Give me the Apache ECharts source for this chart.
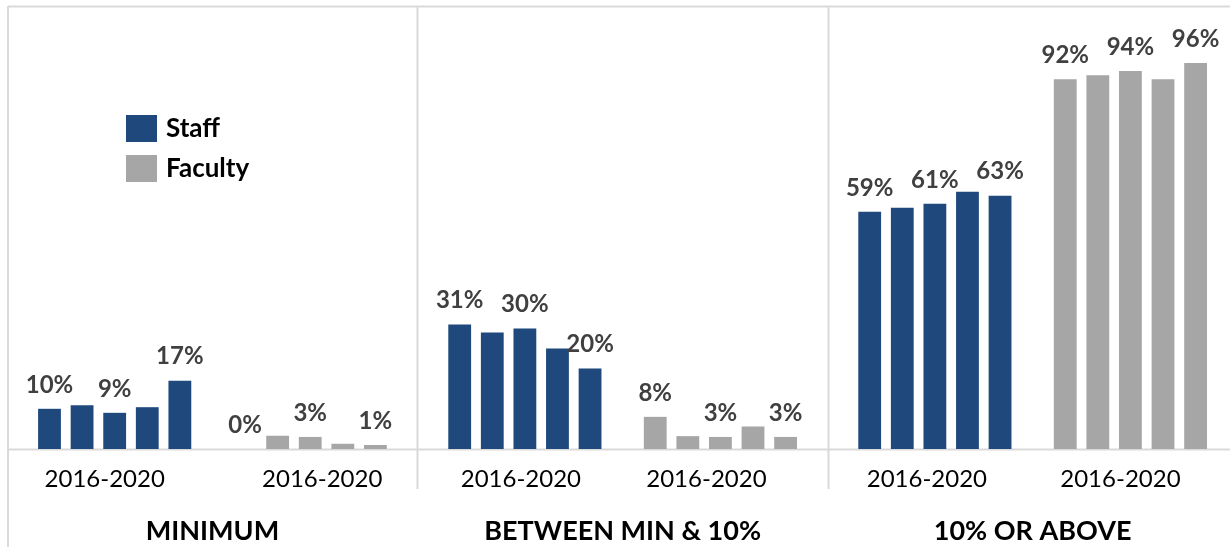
<!DOCTYPE html>
<html>
<head>
<meta charset="utf-8">
<title>Salary increase distribution, Staff vs Faculty</title>
<script src="https://cdn.jsdelivr.net/npm/echarts@6/dist/echarts.min.js"></script>
<style>
  html, body { margin: 0; padding: 0; background: #ffffff; }
  #chart { width: 1230px; height: 547px; }
</style>
</head>
<body>
<div id="chart"></div>
<script>
// Years covered by each group of bars
const years = ['2016', '2017', '2018', '2019', '2020'];
// Panel (outer category) names
const panels = ['MINIMUM', 'BETWEEN MIN & 10%', '10% OR ABOVE'];
const seriesNames = ['Staff', 'Faculty'];

// Percent of employees per year, one array per panel and group
const staffMinimum = [10, 10.9, 9, 10.4, 17];
const facultyMinimum = [0, 3.3, 3, 1.3, 1];
const staffBetween = [31, 29, 30, 25, 20];
const facultyBetween = [8, 3.2, 3, 5.6, 3];
const staffAbove = [59, 60, 61, 64, 63];
const facultyAbove = [92, 93, 94, 92, 96];

// Bars whose value is printed above them (position within the group)
const labelledYears = [0, 2, 4];

const staffValues = [staffMinimum, staffBetween, staffAbove];
const facultyValues = [facultyMinimum, facultyBetween, facultyAbove];

const STAFF_COLOR = '#1f497d';
const FACULTY_COLOR = '#a6a6a6';
const FRAME_COLOR = '#d9d9d9';
const FONT = 'Lato, "Liberation Sans", sans-serif';

// Each panel: 5 staff slots, one empty slot, 5 faculty slots
const categories = [
  ...years.map(y => 'Staff ' + y),
  '',
  ...years.map(y => 'Faculty ' + y)
];
const groupLabel = years[0] + '-' + years[years.length - 1];
const GAP = years.length;
const STAFF_MID = 2;
const FACULTY_MID = GAP + 3;

// Horizontal nudge (px) of the group labels, [staff, faculty] per panel
const labelNudge = [[-10, 12], [-4, -14], [-8, -10]];

const gridLefts = [33.2, 443.4, 853.4];
const grids = gridLefts.map(left => ({
  left: left,
  width: 358.5,
  top: 47,
  bottom: 98,
  containLabel: false,
  outerBoundsMode: 'none'
}));

const xAxes = [];
const yAxes = [];
const series = [];

const nudgeStyle = (dx) => ({
  color: '#000000',
  fontFamily: FONT,
  fontSize: 24,
  padding: dx < 0 ? [0, -2 * dx, 0, 0] : [0, 0, 0, 2 * dx]
});

panels.forEach((panel, i) => {
  // Inner axis: one slot per bar, labelled once per group
  xAxes.push({
    type: 'category',
    gridIndex: i,
    data: categories,
    position: 'bottom',
    axisLine: { show: false },
    axisTick: { show: false },
    axisLabel: {
      interval: (idx) => idx === STAFF_MID || idx === FACULTY_MID,
      formatter: (value, idx) => (idx === STAFF_MID ? '{s|' : '{f|') + groupLabel + '}',
      margin: 18,
      rich: {
        s: nudgeStyle(labelNudge[i][0]),
        f: nudgeStyle(labelNudge[i][1])
      }
    }
  });
  yAxes.push({
    type: 'value',
    gridIndex: i,
    min: 0,
    max: 100,
    show: false,
    splitLine: { show: false }
  });

  const pad = (arr, before) => before
    ? [...arr, '-', ...arr.map(() => '-')]
    : [...arr.map(() => '-'), '-', ...arr];

  const makeLabel = (offset) => ({
    show: true,
    position: 'top',
    distance: 12,
    color: '#404040',
    fontFamily: FONT,
    fontWeight: 'bold',
    fontSize: 24,
    formatter: (p) => {
      const k = p.dataIndex - offset;
      return labelledYears.includes(k) ? Math.round(p.value) + '%' : '';
    }
  });

  series.push({
    name: seriesNames[0],
    type: 'bar',
    xAxisIndex: i,
    yAxisIndex: i,
    stack: 'panel' + i,
    barWidth: '70%',
    itemStyle: { color: STAFF_COLOR },
    label: makeLabel(0),
    data: pad(staffValues[i], true)
  });
  series.push({
    name: seriesNames[1],
    type: 'bar',
    xAxisIndex: i,
    yAxisIndex: i,
    stack: 'panel' + i,
    barWidth: '70%',
    itemStyle: { color: FACULTY_COLOR },
    label: makeLabel(GAP + 1),
    data: pad(facultyValues[i], false)
  });
});

// Outer axis: panel names centred under each panel
panels.forEach((panel, i) => {
  xAxes.push({
    type: 'category',
    gridIndex: i,
    data: [panel],
    position: 'bottom',
    axisLine: { show: false },
    axisTick: { show: false },
    axisLabel: {
      margin: 69,
      color: '#000000',
      fontFamily: FONT,
      fontWeight: 'bold',
      fontSize: 27
    }
  });
});

const frameLine = (x1, y1, x2, y2) => ({
  type: 'line',
  z: 0,
  silent: true,
  shape: { x1, y1, x2, y2 },
  style: { stroke: FRAME_COLOR, lineWidth: 2 }
});

const chart = echarts.init(document.getElementById('chart'), null, { renderer: 'canvas' });
chart.setOption({
  backgroundColor: '#ffffff',
  animation: false,
  textStyle: { fontFamily: FONT },
  legend: {
    data: seriesNames,
    orient: 'vertical',
    left: 126,
    top: 115,
    padding: 0,
    itemWidth: 31,
    itemHeight: 27,
    itemGap: 13,
    icon: 'rect',
    textStyle: {
      color: '#000000',
      fontFamily: FONT,
      fontWeight: 'bold',
      fontSize: 26,
      padding: [0, 0, 0, 4]
    }
  },
  grid: grids,
  xAxis: xAxes,
  yAxis: yAxes,
  series: series,
  graphic: [
    frameLine(8, 6.5, 1230, 6.5),
    frameLine(8, 6, 8, 547),
    frameLine(417.5, 6, 417.5, 489),
    frameLine(828.5, 6, 828.5, 489),
    frameLine(9, 449.5, 1230, 449.5)
  ]
});
</script>
</body>
</html>
